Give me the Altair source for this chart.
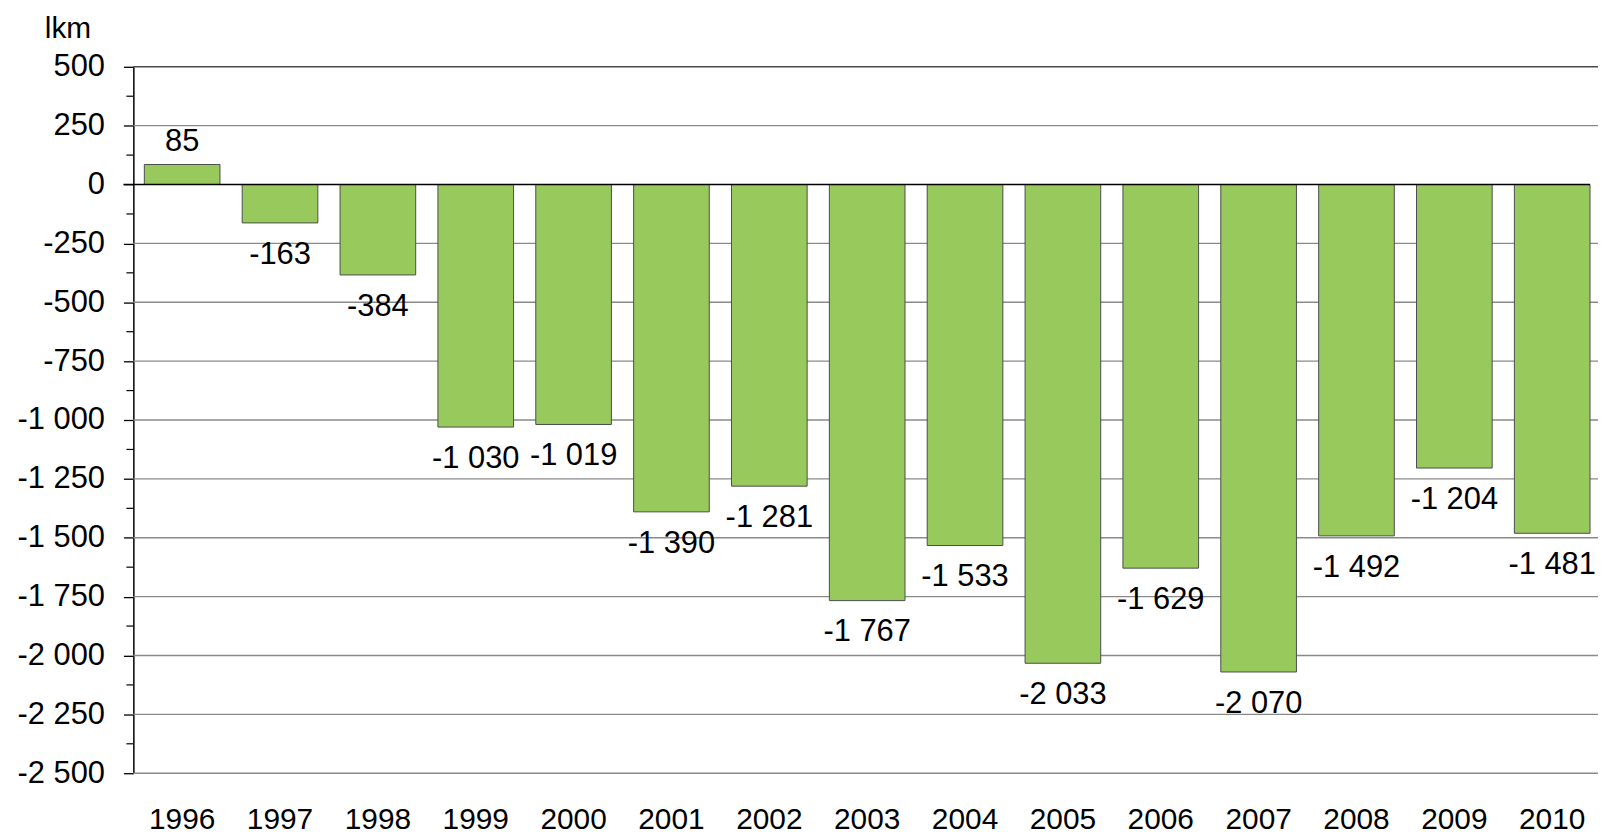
import altair as alt
import pandas as pd

years = ["1996", "1997", "1998", "1999", "2000", "2001", "2002", "2003",
         "2004", "2005", "2006", "2007", "2008", "2009", "2010"]
values = [85, -163, -384, -1030, -1019, -1390, -1281, -1767,
          -1533, -2033, -1629, -2070, -1492, -1204, -1481]
major_ticks = list(range(-2500, 501, 250))
minor_ticks = list(range(-2375, 500, 250))

FONT = "Liberation Sans"
FS = 31
W, H = 1472, 710
XR = 1475

df = pd.DataFrame({"year": years, "v": values})
df["label"] = [f"{v:,}".replace(",", " ") for v in values]
grid_df = pd.DataFrame({"v": [t for t in major_ticks if t not in (0, 500)]})
top_df = pd.DataFrame({"v": [500]})
zero_df = pd.DataFrame({"v": [0]})
minor_df = pd.DataFrame({"v": minor_ticks})

yscale = alt.Scale(domain=[-2500, 500], nice=False, zero=False)
xscale = alt.Scale(paddingInner=0.227, paddingOuter=0.112, range=[0, XR])

label_expr = "(datum.value < 0 ? '-' : '') + replace(format(abs(datum.value), ','), ',', ' ')"
yaxis = alt.Axis(values=major_ticks, labelExpr=label_expr, grid=False,
                 domainColor="black", domainWidth=1.5,
                 tickColor="black", tickWidth=1.3, tickSize=10,
                 labelFont=FONT, labelFontSize=FS, labelColor="black",
                 labelPadding=19, title=None)
xaxis = alt.Axis(domain=False, ticks=False, labelAngle=0, labelFont=FONT,
                 labelFontSize=30, labelColor="black", labelPadding=47,
                 labelBaseline="middle", title=None)

def Y():
    return alt.Y("v:Q", scale=yscale, axis=yaxis)

def X():
    return alt.X("year:N", scale=xscale, sort=years, axis=xaxis)

grid = alt.Chart(grid_df).mark_rule(color="#8a8a8a", strokeWidth=1.4).encode(
    y=Y(), x=alt.value(0), x2=alt.value(XR),
)

top = alt.Chart(top_df).mark_rule(color="#4a4a4a", strokeWidth=1.6).encode(
    y=Y(), x=alt.value(0), x2=alt.value(XR),
)

bars = alt.Chart(df).mark_bar(color="#97C95D", stroke="#4d4d4d", strokeWidth=1).encode(
    x=X(), y=Y(), y2=alt.datum(0),
)

zero = alt.Chart(zero_df).mark_rule(color="black", strokeWidth=1.6).encode(
    y=Y(), x=alt.value(-10), x2=alt.value(1464),
)

neg_labels = alt.Chart(df).transform_filter("datum.v < 0").mark_text(
    font=FONT, fontSize=FS, color="black", baseline="middle", dy=32
).encode(x=X(), y=Y(), text="label:N")

pos_labels = alt.Chart(df).transform_filter("datum.v >= 0").mark_text(
    font=FONT, fontSize=FS, color="black", baseline="middle", dy=-23
).encode(x=X(), y=Y(), text="label:N")

minor = alt.Chart(minor_df).mark_rule(color="black", strokeWidth=1.2).encode(
    y=Y(), x=alt.value(-7), x2=alt.value(0),
)

chart = alt.layer(grid, top, bars, zero, neg_labels, pos_labels, minor).properties(
    width=W, height=H,
    title=alt.TitleParams("lkm", anchor="start", frame="group", dx=-89, offset=7,
                          fontSize=30, font=FONT, fontWeight="normal", color="black"),
    autosize=alt.AutoSizeParams(type="none"),
    padding={"left": 126, "top": 57, "right": 0, "bottom": 60},
).configure_view(stroke=None)

chart.save("out.html", embed_options={"renderer": "svg", "actions": False})
